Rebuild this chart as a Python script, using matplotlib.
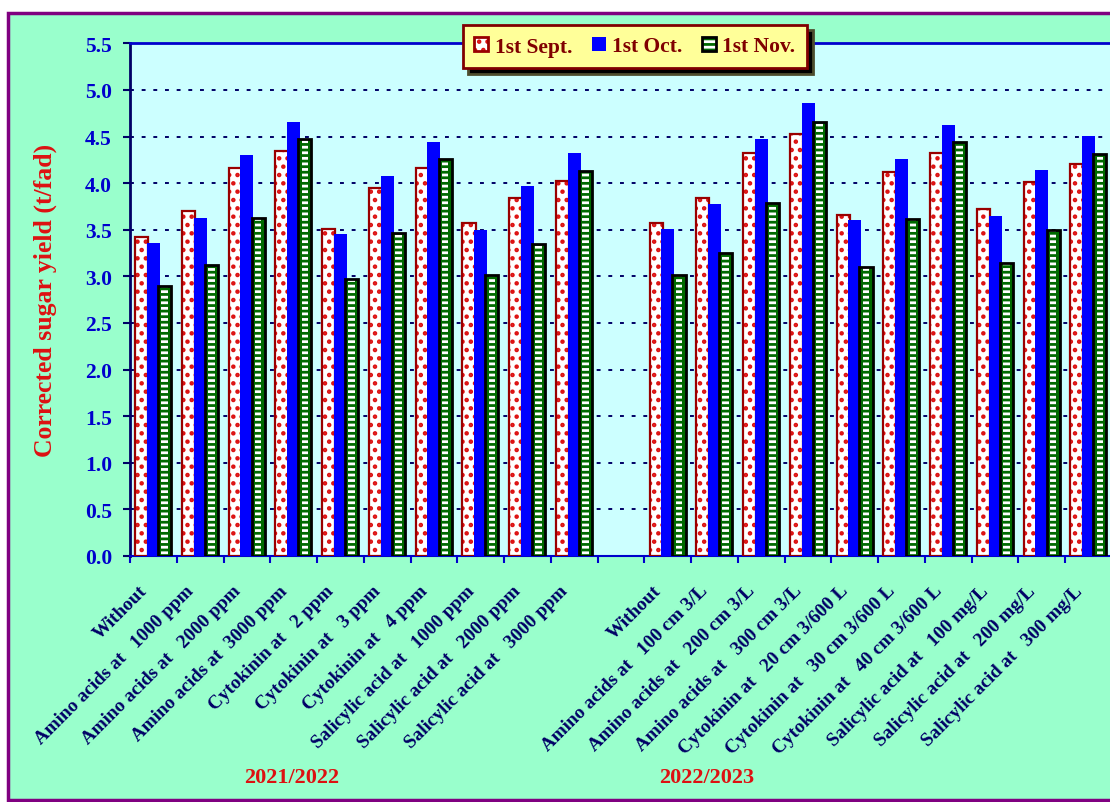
import numpy as np
import matplotlib
matplotlib.use('Agg')
import matplotlib.pyplot as plt
from matplotlib.patches import Patch, Rectangle
from matplotlib.legend_handler import HandlerTuple
from matplotlib.transforms import ScaledTranslation

# treatments (two seasons)
labels_2021 = ['Without', 'Amino acids at   1000 ppm', 'Amino acids at   2000 ppm',
               'Amino acids at  3000 ppm', 'Cytokinin at   2 ppm', 'Cytokinin at   3 ppm',
               'Cytokinin at   4 ppm', 'Salicylic acid at   1000 ppm',
               'Salicylic acid at   2000 ppm', 'Salicylic acid at   3000 ppm']
labels_2022 = ['Without', 'Amino acids at   100 cm 3/L', 'Amino acids at   200 cm 3/L',
               'Amino acids at   300 cm 3/L', 'Cytokinin at   20 cm 3/600 L',
               'Cytokinin at   30 cm 3/600 L', 'Cytokinin at   40 cm 3/600 L',
               'Salicylic acid at   100 mg/L', 'Salicylic acid at   200 mg/L',
               'Salicylic acid at   300 mg/L']
seasons = ['2021/2022', '2022/2023']
dates = ['1st Sept.', '1st Oct.', '1st Nov.']

# corrected sugar yield (t/fad)
sept_2021 = [3.42, 3.70, 4.16, 4.35, 3.51, 3.95, 4.16, 3.57, 3.84, 4.02]
oct_2021 = [3.36, 3.63, 4.30, 4.66, 3.45, 4.08, 4.44, 3.50, 3.97, 4.32]
nov_2021 = [2.90, 3.12, 3.63, 4.47, 2.97, 3.47, 4.26, 3.01, 3.35, 4.13]
sept_2022 = [3.57, 3.84, 4.32, 4.53, 3.66, 4.12, 4.32, 3.72, 4.01, 4.21]
oct_2022 = [3.51, 3.78, 4.47, 4.86, 3.60, 4.26, 4.62, 3.65, 4.14, 4.51]
nov_2022 = [3.01, 3.25, 3.79, 4.66, 3.10, 3.61, 4.44, 3.14, 3.50, 4.31]

SERIF = 'Liberation Serif'
plt.rcParams['font.family'] = SERIF
plt.rcParams['font.weight'] = 'bold'
plt.rcParams['hatch.linewidth'] = 2.0

W = 0.28
OFFS = [-0.25, 0.0, 0.24]


def draw_sept(ax, x, v):
    ax.bar(x, v, W, color='white', edgecolor='#dd1111', hatch='..', lw=0, zorder=3)
    ax.bar(x, v, W, fill=False, edgecolor='#990000', lw=1.6, zorder=3)


def draw_oct(ax, x, v):
    ax.bar(x, v, W, color='#0000ff', lw=0, zorder=4)


def draw_nov(ax, x, v):
    ax.bar(x, v, W, color='#006a00', lw=0, zorder=5)
    ax.bar(x, v, W * 0.5, fill=False, edgecolor='white', hatch='---', lw=0, zorder=5)
    ax.bar(x, v, W, fill=False, edgecolor='black', lw=2.0, zorder=5)


def main():
    fig = plt.figure(figsize=(11.1, 8.03), dpi=100, facecolor='white')
    fig.patches.append(Rectangle((8 / 1110, 2 / 803), 1.2, (803 - 16) / 803,
                                 transform=fig.transFigure, facecolor='#99ffcc',
                                 edgecolor='#800080', lw=2.5, zorder=-5))

    ax = fig.add_axes([130 / 1110, 1 - 557 / 803, 982 / 1110, 512.7 / 803])
    ax.set_facecolor('#ccffff')

    x1 = np.arange(10)
    x2 = np.arange(11, 21)
    for x, s, o, n in [(x1, sept_2021, oct_2021, nov_2021),
                       (x2, sept_2022, oct_2022, nov_2022)]:
        draw_sept(ax, x + OFFS[0], s)
        draw_oct(ax, x + OFFS[1], o)
        draw_nov(ax, x + OFFS[2], n)

    ax.set_xlim(-0.5, 20.5)
    ax.set_ylim(0, 5.5)
    ax.set_yticks(np.arange(0, 5.51, 0.5))
    ax.set_yticklabels([f'{v:.1f}' for v in np.arange(0, 5.51, 0.5)],
                       color='#0000cc', fontsize=15.5, fontweight='bold')
    ax.yaxis.grid(True, color='#000066', linestyle=(0, (2, 4)), lw=1.4, zorder=1)
    ax.set_axisbelow(True)
    ax.tick_params(axis='y', length=5, width=1.5, color='#000066', direction='out', pad=8)

    # category labels at centres, tick marks on boundaries
    ax.set_xticks(np.concatenate([x1, x2]))
    ax.set_xticklabels(labels_2021 + labels_2022, rotation=45, ha='right', va='center',
                       rotation_mode='anchor', color='#000066', fontsize=13.8,
                       fontweight='bold')
    ax.tick_params(axis='x', which='major', length=0, pad=23)
    ax.set_xticks(np.arange(-0.5, 20.6, 1), minor=True)
    ax.tick_params(axis='x', which='minor', length=5, width=1.5, color='#0000cc',
                   direction='out')
    shift = ScaledTranslation(-9 / 100, 0, fig.dpi_scale_trans)
    for lab in ax.get_xticklabels():
        lab.set_transform(lab.get_transform() + shift)

    ax.spines['left'].set_color('#000066')
    ax.spines['left'].set_linewidth(2)
    ax.spines['top'].set_color('#0000cc')
    ax.spines['top'].set_linewidth(2)
    ax.spines['bottom'].set_color('#0000cc')
    ax.spines['bottom'].set_linewidth(1.5)
    ax.spines['right'].set_visible(False)

    fig.text(45 / 1110, 1 - 300 / 803, 'Corrected sugar yield (t/fad)', rotation=90,
             ha='center', va='center', color='#dd1111', fontsize=18.5, fontweight='bold')
    fig.text(292 / 1110, 1 - 778 / 803, seasons[0], ha='center', va='center',
             color='#dd1111', fontsize=16, fontweight='bold')
    fig.text(707 / 1110, 1 - 778 / 803, seasons[1], ha='center', va='center',
             color='#dd1111', fontsize=16, fontweight='bold')

    h_sept = (Patch(facecolor='white', edgecolor='#dd1111', hatch='..', lw=0),
              Patch(fill=False, edgecolor='#990000', lw=2))
    h_oct = Patch(facecolor='#0000ff', lw=0)
    h_nov = (Patch(facecolor='#006a00', lw=0),
             Patch(fill=False, edgecolor='white', hatch='---', lw=0),
             Patch(fill=False, edgecolor='black', lw=2))
    leg = fig.legend([h_sept, h_oct, h_nov], dates, loc='center',
                     bbox_to_anchor=(635 / 1110, 1 - 47.5 / 803), ncol=3,
                     handler_map={tuple: HandlerTuple(ndivide=1, pad=0)},
                     handlelength=0.65, handleheight=0.65, handletextpad=0.3,
                     columnspacing=0.9, borderpad=0.55, fancybox=False, framealpha=1,
                     facecolor='#ffff99', edgecolor='#800000',
                     shadow={'ox': 4, 'oy': -4, 'facecolor': 'black', 'alpha': 1},
                     prop={'family': SERIF, 'weight': 'bold', 'size': 15.5})
    leg.get_frame().set_linewidth(2)
    for t in leg.get_texts():
        t.set_color('#800000')

    fig.savefig('out.png', dpi=100, facecolor='white')


if __name__ == '__main__':
    main()
